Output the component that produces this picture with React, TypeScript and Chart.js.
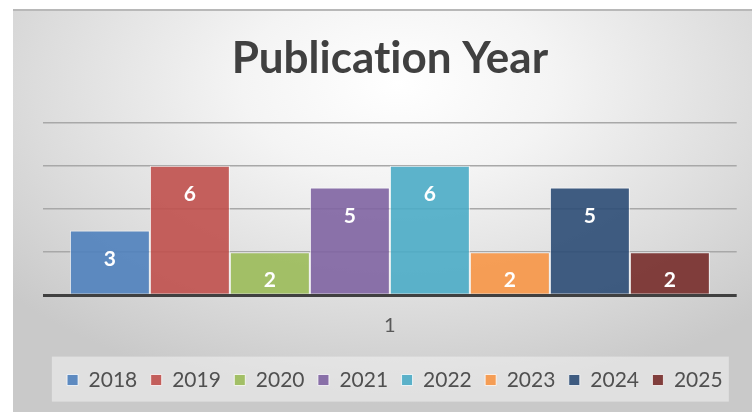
import React, { useEffect, useRef } from "react";
import { Chart, registerables } from "chart.js";

Chart.register(...registerables);

const categories = ["1"];
const years = ["2018", "2019", "2020", "2021", "2022", "2023", "2024", "2025"];
const counts = [3, 6, 2, 5, 6, 2, 5, 2];
const barColors = [
  "rgba(79,129,189,0.9)",
  "rgba(192,80,77,0.9)",
  "rgba(155,187,89,0.9)",
  "rgba(128,100,162,0.9)",
  "rgba(75,172,198,0.9)",
  "rgba(247,150,70,0.9)",
  "rgba(44,77,117,0.9)",
  "rgba(119,44,42,0.9)",
];
const yTicks = [0, 2, 4, 6, 8];
// zero-width non-joiner keeps the "ti" pair from forming a ligature
const titleText = "Publicat\u200Cion Year";

const FONT = "Lato";

const legendShiftPlugin = {
  id: "legendShift",
  afterLayout(chart: any) {
    const lg = chart.legend;
    if (!lg) return;
    lg.left += 5;
    lg.right += 5;
  },
};

const legendBgPlugin = {
  id: "legendBg",
  beforeDraw(chart: any) {
    const lg = chart.legend;
    if (!lg) return;
    const ctx = chart.ctx;
    const cx = (lg.left + lg.right) / 2;
    ctx.save();
    ctx.fillStyle = "rgba(242,242,242,0.55)";
    ctx.fillRect(cx - 343, lg.top + 0.5, 677, 45);
    ctx.restore();
  },
};

const valueLabelPlugin = {
  id: "valueLabels",
  afterDatasetsDraw(chart: any) {
    const ctx = chart.ctx;
    ctx.save();
    ctx.font = `bold 21px ${FONT}`;
    ctx.fillStyle = "#ffffff";
    ctx.textAlign = "center";
    ctx.textBaseline = "middle";
    chart.data.datasets.forEach((ds: any, i: number) => {
      const meta = chart.getDatasetMeta(i);
      meta.data.forEach((bar: any, j: number) => {
        const v = ds.data[j];
        ctx.fillText(String(v), bar.x, bar.y + 28.5);
      });
    });
    ctx.restore();
  },
};

export default function App() {
  const canvasRef = useRef<HTMLCanvasElement | null>(null);

  useEffect(() => {
    let chart: Chart | null = null;
    let cancelled = false;
    const build = () => {
      if (cancelled || !canvasRef.current) return;
      chart = new Chart(canvasRef.current, {
        type: "bar",
        data: {
          labels: categories,
          datasets: years.map((y, i) => ({
            label: y,
            data: [counts[i]],
            backgroundColor: barColors[i],
            borderColor: "rgba(255,255,255,0.75)",
            borderWidth: 1,
            barPercentage: 1,
            categoryPercentage: 0.9226,
          })),
        },
        options: {
          responsive: false,
          animation: false,
          layout: { padding: { top: 0, left: 43, right: 15.3, bottom: 11.5 } },
          plugins: {
            tooltip: { enabled: false },
            title: {
              display: true,
              text: titleText,
              color: "#404040",
              font: { family: FONT, size: 44, weight: "bold", lineHeight: 1.2 },
              padding: { top: 32.3, bottom: 37.6 },
            },
            legend: {
              display: true,
              position: "bottom",
              labels: {
                boxWidth: 11,
                boxHeight: 11,
                padding: 13.4,
                color: "#505050",
                font: { family: FONT, size: 21 },
              },
            },
          },
          scales: {
            x: {
              grid: { display: false, drawTicks: false },
              border: { display: false },
              ticks: {
                color: "#595959",
                padding: 18,
                font: { family: FONT, size: 20 },
              },
              afterFit: (scale: any) => {
                scale.height = 60.8;
              },
            },
            y: {
              min: 0,
              max: 8,
              afterBuildTicks: (scale: any) => {
                scale.ticks = yTicks.map((v) => ({ value: v }));
              },
              ticks: { display: false, stepSize: 2 },
              border: { display: false },
              grid: {
                drawTicks: false,
                color: (c: any) => (c.tick && c.tick.value === 0 ? "#404040" : "#a8a8a8"),
                lineWidth: (c: any) => (c.tick && c.tick.value === 0 ? 3 : 1.5),
              },
            },
          },
        },
        plugins: [legendShiftPlugin, legendBgPlugin, valueLabelPlugin],
      });
    };
    const fontsApi: any = (document as any).fonts;
    if (fontsApi && fontsApi.load) {
      Promise.all([
        fontsApi.load(`bold 44px ${FONT}`),
        fontsApi.load(`21px ${FONT}`),
      ])
        .catch(() => {})
        .then(build);
    } else {
      build();
    }
    return () => {
      cancelled = true;
      if (chart) chart.destroy();
    };
  }, []);

  return (
    <div style={{ position: "absolute", left: 0, top: 0, width: 752, height: 412, background: "#ffffff", overflow: "hidden" }}>
      <div
        style={{
          position: "absolute",
          left: 13,
          top: 9,
          width: 739,
          height: 403,
          borderTop: "2px solid #b8b8b8",
          boxSizing: "border-box",
          background:
            "radial-gradient(ellipse 70% 80% at 52% 18%, #ffffff 0%, #f4f4f4 30%, #dcdcdc 70%, #c9c9c9 100%)",
        }}
      />
      <canvas
        ref={canvasRef}
        width={752}
        height={412}
        style={{ position: "absolute", left: 0, top: 0, width: 752, height: 412, display: "block" }}
      />
    </div>
  );
}
